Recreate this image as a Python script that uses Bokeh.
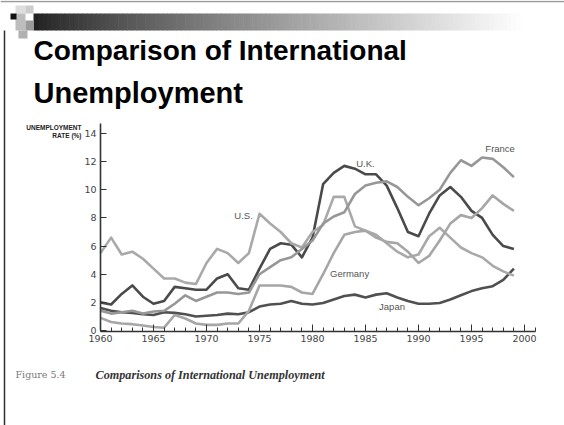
import numpy as np
from bokeh.plotting import figure
from bokeh.models import Range1d, LinearAxis, FixedTicker
from bokeh.core.properties import value
from bokeh.embed import file_html
from bokeh.resources import INLINE

# ---- data: unemployment rate (%) by year ----
years = list(range(1960, 2000))
us = [5.5, 6.6, 5.4, 5.6, 5.1, 4.4, 3.7, 3.7, 3.4, 3.3,
      4.8, 5.8, 5.5, 4.8, 5.5, 8.3, 7.6, 7.0, 6.2, 5.9,
      7.0, 7.5, 9.5, 9.5, 7.4, 7.1, 6.8, 6.2, 5.6, 5.2,
      5.4, 6.7, 7.3, 6.6, 5.9, 5.5, 5.2, 4.6, 4.2, 3.9]
uk = [2.0, 1.85, 2.6, 3.2, 2.4, 1.9, 2.1, 3.1, 3.0, 2.9,
      2.9, 3.7, 4.0, 3.0, 2.9, 4.4, 5.8, 6.2, 6.1, 5.2,
      6.6, 10.4, 11.2, 11.7, 11.5, 11.1, 11.1, 10.3, 8.7, 7.0,
      6.7, 8.3, 9.6, 10.2, 9.5, 8.5, 8.0, 6.8, 6.0, 5.8]
france = [1.4, 1.2, 1.3, 1.4, 1.2, 1.35, 1.4, 1.9, 2.5, 2.1,
          2.4, 2.7, 2.7, 2.6, 2.7, 4.0, 4.5, 5.0, 5.2, 5.8,
          6.4, 7.6, 8.1, 8.4, 9.7, 10.3, 10.5, 10.6, 10.2, 9.5,
          8.9, 9.4, 10.0, 11.2, 12.1, 11.7, 12.3, 12.2, 11.6, 10.9]
germany = [0.9, 0.6, 0.5, 0.45, 0.35, 0.25, 0.2, 1.1, 0.85, 0.5,
           0.4, 0.4, 0.5, 0.5, 1.4, 3.2, 3.2, 3.2, 3.1, 2.7,
           2.6, 4.0, 5.5, 6.8, 7.0, 7.1, 6.6, 6.3, 6.2, 5.6,
           4.8, 5.3, 6.4, 7.6, 8.2, 8.0, 8.7, 9.6, 9.0, 8.5]
japan = [1.6, 1.4, 1.3, 1.25, 1.15, 1.1, 1.3, 1.25, 1.15, 1.0,
         1.05, 1.1, 1.2, 1.15, 1.3, 1.7, 1.85, 1.9, 2.1, 1.9,
         1.85, 1.95, 2.2, 2.45, 2.55, 2.35, 2.55, 2.65, 2.35, 2.1,
         1.9, 1.9, 1.95, 2.2, 2.5, 2.8, 3.0, 3.15, 3.6, 4.4]

country_names = ["U.S.", "U.K.", "France", "Germany", "Japan"]
x_ticks = [1960, 1965, 1970, 1975, 1980, 1985, 1990, 1995, 2000]
x_minor = list(range(1960, 2002))
y_ticks = [0, 2, 4, 6, 8, 10, 12, 14]

# ---- page geometry ----
W, H = 564, 425
X0, PX_PER_YEAR = 100.0, 10.6     # where 1960 sits, pixels per year
Y0, PX_PER_UNIT = 330.0, 14.07    # where 0% sits, pixels per percentage point

x_start = 1960 - X0 / PX_PER_YEAR
y_top = Y0 / PX_PER_UNIT
y_bottom = -(H - Y0) / PX_PER_UNIT

p = figure(width=W, height=H,
           x_range=Range1d(x_start, x_start + W / PX_PER_YEAR),
           y_range=Range1d(y_bottom, y_top),
           x_axis_type=None, y_axis_type=None,
           output_backend="svg", toolbar_location=None, min_border=0)
p.outline_line_color = None
p.background_fill_color = "white"
p.border_fill_color = "white"
# pixel-space ranges for the slide furniture
p.extra_x_ranges = {"px": Range1d(0, W)}
p.extra_y_ranges = {"px": Range1d(H, 0)}
PX = dict(x_range_name="px", y_range_name="px")

# ---- slide furniture: frame lines, gradient bar, corner squares ----
p.segment(x0=[0], y0=[1], x1=[W], y1=[1], line_color="#9a9a9a", line_width=1.5, **PX)
p.segment(x0=[4], y0=[30], x1=[4], y1=[H], line_color="#303030", line_width=1.5, **PX)

edges = np.linspace(33, W, 120)
shade = np.clip(0x22 + (0xff - 0x22) * ((edges[:-1] - 33) / (520 - 33)) ** 0.85, 0, 255).astype(int)
bar_colors = ["#%02x%02x%02x" % (s, s, s) for s in shade]
p.quad(left=edges[:-1], right=edges[1:] + 0.6, top=[13] * len(bar_colors),
       bottom=[30] * len(bar_colors), fill_color=bar_colors, line_color=None, **PX)

p.quad(left=[15, 25, 15, 25, 18, 10], right=[25, 33, 25, 33, 27, 16],
       top=[5, 5, 13, 20, 30, 13], bottom=[13, 13, 30, 30, 38, 19],
       fill_color=["#dddddd", "#cccccc", "#bdbdbd", "#9a9a9a", "#b0b0b0", "#111111"],
       line_color=None, **PX)

# ---- slide title ----
p.text(x=[33], y=[50], text=["Comparison of International"],
       text_font=value("Liberation Sans"), text_font_style="bold",
       text_font_size="28px", text_color="#000000", text_baseline="alphabetic", **PX)
p.text(x=[33], y=[92], text=["Unemployment"],
       text_font=value("Liberation Sans"), text_font_style="bold",
       text_font_size="29px", text_color="#000000", text_baseline="alphabetic", **PX)

# ---- axis title ----
p.text(x=[81, 81], y=[127, 135], text=["UNEMPLOYMENT", "RATE (%)"],
       text_font=value("Liberation Sans"), text_font_style="bold",
       text_font_size="6.5px", text_color="#222222", text_align="right",
       text_baseline="alphabetic", **PX)

# ---- series ----
series = [uk, japan, us, france, germany]
colors = ["#4a4a4a", "#505050", "#a9a9a9", "#979797", "#a6a6a6"]
for vals, col in zip(series, colors):
    p.line(years, vals, line_color=col, line_width=2.6, line_join="round")

label_x = [1973.5, 1985.0, 1997.7, 1983.5, 1987.5]
label_y = [8.2, 11.9, 12.9, 4.05, 1.7]
p.text(x=label_x, y=label_y, text=country_names,
       text_font=value("Liberation Sans"), text_font_size="9.5px",
       text_color="#555555", text_align="center", text_baseline="middle")

# ---- axes ----
xaxis = LinearAxis(fixed_location=-0.1, bounds=(1960, 2001),
                   ticker=FixedTicker(ticks=x_ticks, minor_ticks=x_minor))
yaxis = LinearAxis(fixed_location=1960, bounds=(0, 14.7),
                   ticker=FixedTicker(ticks=y_ticks))
for ax in (xaxis, yaxis):
    ax.axis_line_color = "#333333"
    ax.axis_line_width = 1.6
    ax.major_tick_line_color = "#333333"
    ax.minor_tick_line_color = "#333333"
    ax.major_tick_out = 0
    ax.minor_tick_out = 0
    ax.major_label_text_font = "DejaVu Sans"
    ax.major_label_text_font_size = "9.5px"
    ax.major_label_text_color = "#444444"
xaxis.major_tick_in = 7
xaxis.minor_tick_in = 4
xaxis.major_label_standoff = 3
yaxis.major_tick_in = 6
yaxis.minor_tick_line_color = None
yaxis.major_label_standoff = 4
p.add_layout(xaxis, "below")
p.add_layout(yaxis, "left")

# ---- figure caption ----
p.text(x=[15], y=[374], text=["Figure 5.4"], text_font=value("DejaVu Serif"),
       text_font_size="9.5px", text_color="#7a7a7a", text_baseline="alphabetic", **PX)
p.text(x=[95], y=[374], text=["Comparisons of International Unemployment"],
       text_font=value("Liberation Serif"), text_font_style="bold italic",
       text_font_size="12.2px", text_color="#333333", text_baseline="alphabetic", **PX)

open("out.html", "w").write(file_html(p, INLINE))
